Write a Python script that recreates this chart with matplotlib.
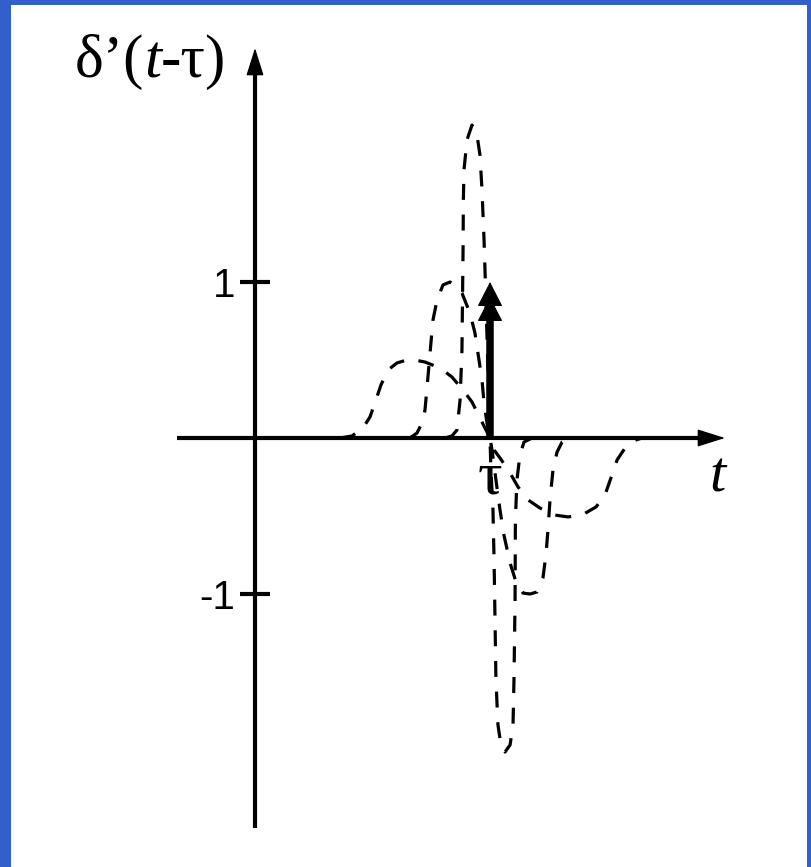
import matplotlib
matplotlib.use("Agg")
import matplotlib.pyplot as plt
from matplotlib.patches import Rectangle

# --- data -------------------------------------------------------------
tau = 1.5  # location of the doublet on the t axis

# three smooth approximations of delta'(t - tau), widest to narrowest
wide_t = [0.543, 0.619, 0.689, 0.734, 0.772, 0.804, 0.849, 0.906, 0.989, 1.085,
          1.181, 1.257, 1.328, 1.385, 1.436, 1.481, 1.500, 1.526, 1.564, 1.628,
          1.679, 1.743, 1.819, 1.915, 1.998, 2.087, 2.177, 2.234, 2.272, 2.311,
          2.362, 2.413, 2.470]
wide_v = [0.0, 0.013, 0.064, 0.135, 0.244, 0.340, 0.436, 0.481, 0.506, 0.487,
          0.449, 0.391, 0.308, 0.231, 0.128, 0.038, 0.0, -0.077, -0.128, -0.224,
          -0.314, -0.397, -0.449, -0.494, -0.506, -0.494, -0.442, -0.365, -0.256,
          -0.141, -0.064, -0.019, 0.0]

mid_t = [0.989, 1.034, 1.066, 1.085, 1.104, 1.123, 1.136, 1.162, 1.200, 1.245,
         1.289, 1.321, 1.372, 1.404, 1.423, 1.449, 1.462, 1.481, 1.500, 1.513,
         1.538, 1.564, 1.589, 1.628, 1.672, 1.711, 1.755, 1.800, 1.838, 1.857,
         1.870, 1.883, 1.902, 1.928, 1.960, 2.011]
mid_v = [0.0, 0.032, 0.096, 0.179, 0.391, 0.609, 0.756, 0.885, 0.981, 1.0,
         0.968, 0.929, 0.801, 0.673, 0.545, 0.372, 0.224, 0.096, 0.0, -0.077,
         -0.269, -0.462, -0.622, -0.801, -0.942, -0.994, -1.0, -0.987, -0.897,
         -0.750, -0.590, -0.397, -0.205, -0.090, -0.026, 0.0]

narrow_t = [1.213, 1.257, 1.289, 1.309, 1.321, 1.328, 1.330, 1.334, 1.353, 1.385,
            1.417, 1.436, 1.449, 1.462, 1.474, 1.487, 1.494, 1.500, 1.506, 1.519,
            1.526, 1.532, 1.538, 1.551, 1.570, 1.596, 1.628, 1.647, 1.653, 1.660,
            1.662, 1.672, 1.691, 1.717, 1.768]
narrow_v = [0.0, 0.013, 0.051, 0.244, 0.564, 1.205, 1.526, 1.718, 1.910, 2.006,
            1.942, 1.814, 1.590, 1.269, 0.885, 0.436, 0.179, 0.0, -0.205, -0.462,
            -0.782, -1.167, -1.551, -1.840, -1.968, -2.013, -1.968, -1.840, -1.551,
            -1.038, -0.526, -0.269, -0.109, -0.026, 0.0]

y_ticks = [1, -1]
y_tick_labels = ["1", "-1"]

# --- figure -----------------------------------------------------------
W, H, DPI = 811, 867, 100
fig = plt.figure(figsize=(W / DPI, H / DPI), dpi=DPI, facecolor="#325FC9")
fig.patches.append(Rectangle((11 / W, 0), (807 - 11) / W, (H - 5) / H,
                             transform=fig.transFigure, facecolor="white",
                             edgecolor="none", zorder=-5))

ax = fig.add_axes([0, 0, 1, 1])
ax.set_zorder(1)
ax.set_xlim(-1.6277, 3.549)
ax.set_ylim(-2.75, 2.8077)
ax.axis("off")
ax.patch.set_visible(False)

axis_lw = 3.0
k = "black"

# axes with arrow heads
ax.plot([-0.5, 2.9], [0, 0], color=k, lw=axis_lw, solid_capstyle="butt", zorder=3)
ax.plot([0, 0], [-2.5, 2.4], color=k, lw=axis_lw, solid_capstyle="butt", zorder=3)
head = dict(arrowstyle="-|>,head_length=1.75,head_width=0.55", color=k, lw=1,
            shrinkA=0, shrinkB=0, mutation_scale=10)
ax.annotate("", xy=(3.0, 0), xytext=(2.6, 0), arrowprops=head, zorder=3)
ax.annotate("", xy=(0, 2.5), xytext=(0, 2.2), arrowprops=head, zorder=3)

# y ticks
for v, lab in zip(y_ticks, y_tick_labels):
    ax.plot([-0.096, 0.096], [v, v], color=k, lw=axis_lw, solid_capstyle="butt", zorder=3)
    ax.text(-0.125, v - 0.096, lab, ha="right", va="baseline",
            fontsize=29, family="Liberation Sans")

# dashed approximating pulses
dash = (0, (5.0, 4.6))
for tt, vv in [(wide_t, wide_v), (mid_t, mid_v), (narrow_t, narrow_v)]:
    ax.plot(tt, vv, color=k, lw=2.3, linestyle=dash, zorder=2)

# doublet symbol: thick shaft with a double arrow head
ax.plot([tau, tau], [0, 0.85], color=k, lw=5.4, solid_capstyle="butt", zorder=4)
dhead = dict(arrowstyle="-|>,head_length=1.6,head_width=0.82", color=k, lw=0.8,
             shrinkA=0, shrinkB=0, mutation_scale=10)
ax.annotate("", xy=(tau, 1.0), xytext=(tau, 0.6), arrowprops=dhead, zorder=4)
ax.annotate("", xy=(tau, 0.904), xytext=(tau, 0.6), arrowprops=dhead, zorder=4)

# labels
serif = "Liberation Serif"
ax.text(tau, -0.353, "τ", ha="center", va="baseline", fontsize=44, family=serif)
ax.text(2.95, -0.346, "t", ha="center", va="baseline", fontsize=42,
        family=serif, style="italic")

t1 = ax.text(-1.15, 2.314, "δ’(", ha="left", va="baseline", fontsize=44, family=serif)
t2 = ax.annotate("t", xy=(1, 0), xycoords=t1, ha="left", va="bottom",
                 fontsize=44, family=serif, style="italic")
t3 = ax.annotate("-τ)", xy=(1, 0), xycoords=t2, ha="left", va="bottom",
                 fontsize=44, family=serif)

fig.savefig("out.png", dpi=DPI, facecolor=fig.get_facecolor())
